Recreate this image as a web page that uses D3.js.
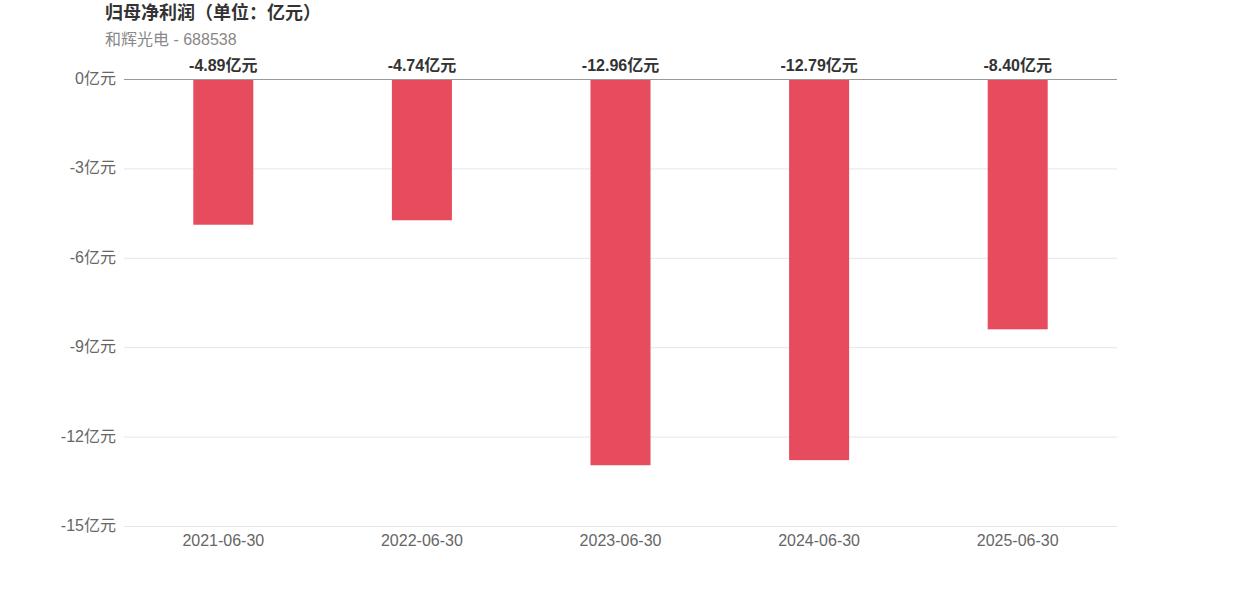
<!DOCTYPE html>
<html>
<head>
<meta charset="utf-8">
<script src="https://cdn.jsdelivr.net/npm/d3@7"></script>
<style>
body { margin: 0; background: #fff; font-family: "Liberation Sans", "Noto Sans CJK SC", sans-serif; }
</style>
</head>
<body>
<div id="chart"></div>
<script>
// data
var dates = ["2021-06-30", "2022-06-30", "2023-06-30", "2024-06-30", "2025-06-30"];
var profits = [-4.89, -4.74, -12.96, -12.79, -8.40];
var yTicks = [0, -3, -6, -9, -12, -15];

var width = 1242, height = 596;
var margin = {top: 79, right: 125, bottom: 70, left: 124};

var svg = d3.select("#chart").append("svg")
  .attr("width", width)
  .attr("height", height);

var x = d3.scaleBand()
  .domain(dates)
  .range([margin.left, width - margin.right]);

var y = d3.scaleLinear()
  .domain([0, -15])
  .range([margin.top, height - margin.bottom]);

// title
svg.append("text")
  .attr("x", 105).attr("y", 19)
  .style("font-size", "18px").style("font-weight", "bold")
  .attr("fill", "#333")
  .text("归母净利润（单位：亿元）");

svg.append("text")
  .attr("x", 105).attr("y", 45)
  .style("font-size", "16px")
  .attr("fill", "#888")
  .text("和辉光电 - 688538");

// grid lines
svg.append("g").selectAll("line")
  .data(yTicks.filter(function(d) { return d != 0; }))
  .enter().append("line")
  .attr("x1", margin.left).attr("x2", width - margin.right)
  .attr("y1", function(d) { return y(d) + 0.5; })
  .attr("y2", function(d) { return y(d) + 0.5; })
  .attr("stroke", "#e3e6ee");

// y axis labels
svg.append("g").selectAll("text")
  .data(yTicks)
  .enter().append("text")
  .attr("x", 116)
  .attr("y", function(d) { return y(d) + 5; })
  .attr("text-anchor", "end")
  .style("font-size", "16px")
  .attr("fill", "#666")
  .text(function(d) { return d + "亿元"; });

// bars
svg.append("g").selectAll("rect")
  .data(profits)
  .enter().append("rect")
  .attr("x", function(d, i) { return x(dates[i]) + x.bandwidth() / 2 - 30; })
  .attr("y", y(0))
  .attr("width", 60)
  .attr("height", function(d) { return y(d) - y(0); })
  .attr("fill", "#e64b5e");

// zero line
svg.append("line")
  .attr("x1", margin.left).attr("x2", width - margin.right)
  .attr("y1", y(0) + 0.5).attr("y2", y(0) + 0.5)
  .attr("stroke", "#999");

// value labels
svg.append("g").selectAll("text")
  .data(profits)
  .enter().append("text")
  .attr("x", function(d, i) { return x(dates[i]) + x.bandwidth() / 2; })
  .attr("y", y(0) - 8)
  .attr("text-anchor", "middle")
  .style("font-size", "16px").style("font-weight", "bold")
  .attr("fill", "#333")
  .text(function(d) { return d.toFixed(2) + "亿元"; });

// x axis labels
svg.append("g").selectAll("text")
  .data(dates)
  .enter().append("text")
  .attr("x", function(d) { return x(d) + x.bandwidth() / 2; })
  .attr("y", 546)
  .attr("text-anchor", "middle")
  .style("font-size", "16px")
  .attr("fill", "#666")
  .text(function(d) { return d; });
</script>
</body>
</html>
